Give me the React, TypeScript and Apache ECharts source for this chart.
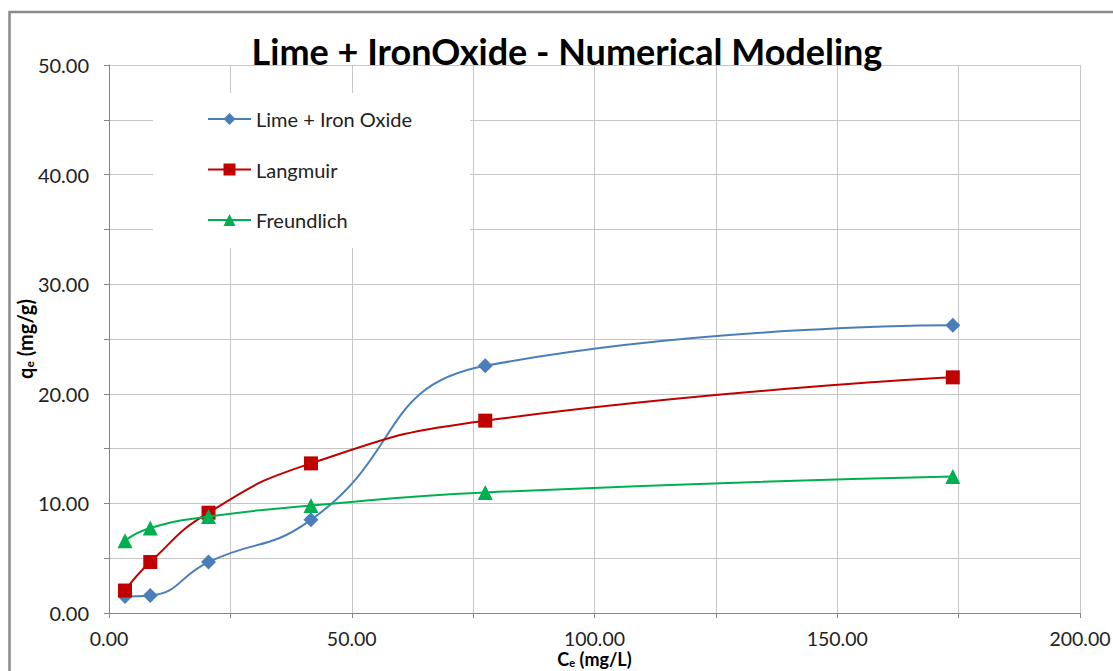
import React, { useEffect, useRef } from "react";
import * as echarts from "echarts";

const ceValues = [3.3, 8.5, 20.5, 41.6, 77.5, 173.8];
const limeIronOxide = [1.5, 1.6, 4.65, 8.5, 22.55, 26.25];
const langmuir = [2.05, 4.65, 9.15, 13.65, 17.55, 21.5];
const freundlich = [6.6, 7.75, 8.8, 9.8, 11.0, 12.45];
const seriesNames = ["Lime + Iron Oxide", "Langmuir", "Freundlich"];
const titleText = "Lime + IronOxide - Numerical Modeling";

const FONT = "Lato";

function pairs(ys: number[]) {
  return ceValues.map((x, i) => [x, ys[i]]);
}

export default function App() {
  const ref = useRef<HTMLDivElement>(null);
  useEffect(() => {
    if (!ref.current) return;
    const chart = echarts.init(ref.current, null, { renderer: "svg" });
    const gridColor = "#c6c6c6";
    const axisColor = "#868686";
    const nameRich = (size: number, sub: number, pad: number) => ({
      b: { fontFamily: FONT, fontWeight: "bold", fontSize: size, color: "#000" },
      s: { fontFamily: FONT, fontWeight: "bold", fontSize: sub, color: "#000", verticalAlign: "bottom", padding: [pad, 0, 0, 0] },
    });
    chart.setOption({
      animation: false,
      backgroundColor: "#ffffff",
      title: {
        text: titleText,
        left: 567,
        textAlign: "center",
        top: 33,
        padding: 0,
        textStyle: { fontFamily: FONT, fontWeight: "bold", fontSize: 36, color: "#000" },
      },
      grid: { left: 109, right: 33, top: 65, bottom: 58, containLabel: false, outerBoundsMode: "none" },
      legend: {
        orient: "vertical",
        left: 207,
        top: 109,
        padding: 0,
        itemWidth: 43,
        itemHeight: 15,
        itemGap: 30.5,
        z: 10,
        textStyle: { fontFamily: FONT, fontSize: 20, color: "#222", lineHeight: 20 },
        data: seriesNames,
      },
      graphic: [
        {
          type: "rect",
          z: 3,
          shape: { x: 153, y: 93, width: 317, height: 155 },
          style: { fill: "#ffffff", stroke: "none" },
        },
        {
          type: "rect",
          z: 20,
          shape: { x: 9.5, y: 12, width: 1200, height: 800 },
          style: { fill: "none", stroke: "#8a8a8a", lineWidth: 2.5 },
        },
      ],
      xAxis: {
        type: "value",
        min: 0,
        max: 200,
        interval: 25,
        name: "{b|C}{s|e}{b| (mg/L)}",
        nameLocation: "middle",
        nameGap: 37,
        nameMoveOverlap: false,
        nameTextStyle: { rich: nameRich(18, 11, 4) },
        axisLine: { show: true, lineStyle: { color: axisColor, width: 1 } },
        axisTick: { show: true, inside: false, length: 5, lineStyle: { color: axisColor } },
        axisLabel: {
          margin: 16,
          fontFamily: FONT,
          fontSize: 19.5,
          lineHeight: 19,
          color: "#222",
          formatter: (v: number) => (v % 50 === 0 ? v.toFixed(2) : ""),
        },
        splitLine: { show: true, lineStyle: { color: gridColor, width: 1 } },
      },
      yAxis: {
        type: "value",
        min: 0,
        max: 50,
        interval: 5,
        name: "{b|q}{s|e}{b| (mg/g)}",
        nameLocation: "middle",
        nameGap: 74,
        nameMoveOverlap: false,
        nameRotate: 90,
        nameTextStyle: { rich: nameRich(20, 12, 6) },
        axisLine: { show: true, lineStyle: { color: axisColor, width: 1 } },
        axisTick: { show: true, inside: false, length: 5, lineStyle: { color: axisColor } },
        axisLabel: {
          margin: 20,
          fontFamily: FONT,
          fontSize: 20,
          color: "#222",
          formatter: (v: number) => (v % 10 === 0 ? v.toFixed(2) : ""),
        },
        splitLine: { show: true, lineStyle: { color: gridColor, width: 1 } },
      },
      series: [
        {
          name: seriesNames[0],
          type: "line",
          smooth: 0.5,
          data: pairs(limeIronOxide),
          symbol: "diamond",
          symbolSize: 15,
          itemStyle: { color: "#4a7ebb" },
          lineStyle: { color: "#4a7ebb", width: 2 },
          z: 2,
        },
        {
          name: seriesNames[1],
          type: "line",
          smooth: 0.5,
          data: pairs(langmuir),
          symbol: "rect",
          symbolSize: 14,
          itemStyle: { color: "#c00000" },
          lineStyle: { color: "#c00000", width: 2 },
          z: 3,
        },
        {
          name: seriesNames[2],
          type: "line",
          smooth: 0.5,
          data: pairs(freundlich),
          symbol: "triangle",
          symbolSize: 15,
          itemStyle: { color: "#00b050" },
          lineStyle: { color: "#00b050", width: 2 },
          z: 4,
        },
      ],
    });
    return () => chart.dispose();
  }, []);
  return (
    <div
      ref={ref}
      style={{ position: "fixed", left: 0, top: 0, width: 1113, height: 671, background: "#fff" }}
    />
  );
}
